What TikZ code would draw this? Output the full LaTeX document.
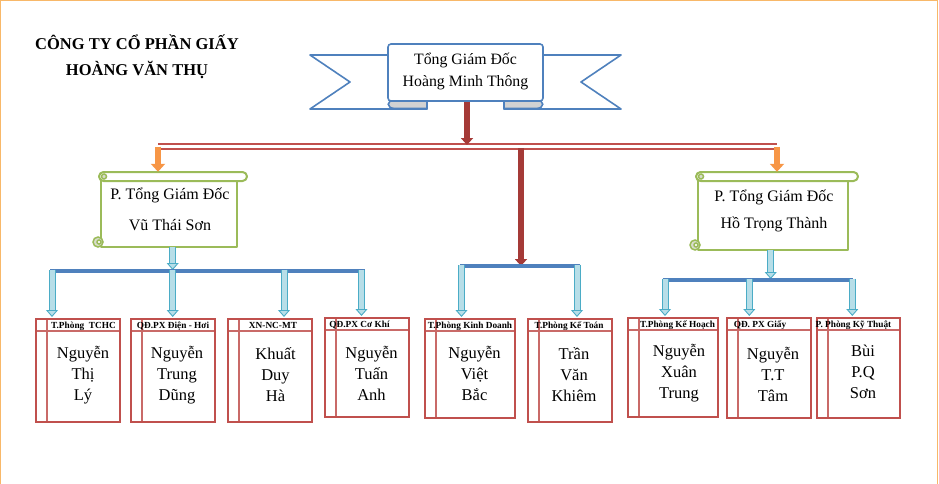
\documentclass[tikz,border=0pt]{standalone}
\usepackage{fontspec}
\setmainfont{Liberation Serif}
\usetikzlibrary{arrows.meta}

\definecolor{pageorange}{HTML}{F8B869}
\definecolor{boxred}{HTML}{C0504D}
\definecolor{innerpink}{HTML}{E6B9B8}
\definecolor{bannerblue}{HTML}{4F81BD}
\definecolor{foldgray}{HTML}{D2D2D2}
\definecolor{scrollgreen}{HTML}{9BBB59}
\definecolor{curlfill}{HTML}{D8DCCC}
\definecolor{arrowfill}{HTML}{B7DEE8}
\definecolor{arrowedge}{HTML}{4BACC6}
\definecolor{darkred}{HTML}{A53A37}
\definecolor{orangearrow}{HTML}{F79646}

\begin{document}
\begin{tikzpicture}[x=1pt,y=-1pt]
\tikzset{
    frame/.style={pageorange, line width=1.2pt},
    companytext/.style={font=\bfseries\fontsize{16.5}{26}\selectfont, align=center},
    ribbon/.style={draw=bannerblue, line width=1.6pt, fill=white, line join=round},
    fold/.style={draw=bannerblue, line width=1.6pt, fill=foldgray},
    ceobox/.style={ribbon, rounded corners=3pt, minimum width=155pt, minimum height=57pt,
        inner sep=0pt, align=center, font=\fontsize{15.8}{22}\selectfont},
    redline/.style={draw=boxred, line width=1.8pt, double=white, double distance=2.6pt},
    redarrow/.style={draw=darkred, line width=5.5pt, -{Triangle[length=7pt,width=12pt]}},
    orangedown/.style={draw=orangearrow, line width=5.5pt, -{Triangle[length=8pt,width=14pt]}},
    scroll/.style={draw=scrollgreen, line width=2pt, fill=white, line join=round},
    curl/.style={draw=scrollgreen, line width=1.5pt, fill=curlfill},
    vptext/.style={inner sep=0pt, align=center, font=\fontsize{16}{20}\selectfont},
    bluebar/.style={draw=bannerblue, line width=4.5pt},
    bluearrow/.style={draw=arrowfill, line width=5pt, shorten >=1pt,
        -{Triangle[length=7pt,width=12pt,fill=arrowfill,color=arrowedge,line width=0.9pt]},
        preaction={draw=arrowedge, line width=7pt, -, shorten >=6pt}},
    staffbox/.style={draw=boxred, line width=2pt, inner sep=0pt,
        path picture={\draw[innerline]
            ([yshift=-12pt]path picture bounding box.north west) -- ([yshift=-12pt]path picture bounding box.north east)
            ([xshift=11pt]path picture bounding box.north west) -- ([xshift=11pt]path picture bounding box.south west);}},
    innerline/.style={draw=boxred!75!innerpink, line width=1.4pt},
    headtext/.style={anchor=base, inner sep=0pt, font=\bfseries\fontsize{9.3}{10}\selectfont},
    staffname/.style={inner sep=0pt, align=center, font=\fontsize{16.5}{21}\selectfont}}

\useasboundingbox (0,0) rectangle (939,484);
\draw[frame] (0.6,484) -- (0.6,0.6) -- (937.4,0.6) -- (937.4,484);

\node[companytext] (company) at (137,57) {CÔNG TY CỔ PHẦN GIẤY\\HOÀNG VĂN THỤ};

\draw[ribbon] (400,55) -- (310,55) -- (350,82) -- (310,109) -- (427,109) -- (427,80) -- cycle;
\draw[ribbon] (531,55) -- (621,55) -- (581,82) -- (621,109) -- (504,109) -- (504,80) -- cycle;
\draw[fold] (427,100) -- (427,108.5) -- (395,108.5) .. controls (386,108.5) and (386,100) .. (395,100) -- cycle;
\draw[fold] (504,100) -- (504,108.5) -- (536,108.5) .. controls (545,108.5) and (545,100) .. (536,100) -- cycle;
\node[ceobox] (ceo) at (465.5,72.5) {Tổng Giám Đốc\\Hoàng Minh Thông\rule[-5pt]{0pt}{0pt}};

\def\xa{93}
\def\ya{172}
\def\xb{247}
\def\yb{247}

\draw[scroll] (\xa+8,\ya+5) -- (\xa+8,\yb) -- (\xb-10,\yb) -- (\xb-10,\ya+5);
\draw[scroll, rounded corners=4.5pt] (\xa+6,\ya) rectangle (\xb,\ya+9);
\draw[curl] (\xa+11,\ya+4.5) circle (2.5);
\draw[curl] (\xa+5,\yb-5) circle (5);
\draw[curl, fill=white] (\xa+6,\yb-5) circle (2);
\node[vptext, minimum width={(\xb-\xa)*1pt}, minimum height={(\yb-\ya)*1pt}] (vp1)
    at ({(\xa+\xb)/2},{(\ya+\yb)/2}) {P. Tổng Giám Đốc\\[11pt]Vũ Thái Sơn};

\def\xa{690}
\def\ya{172}
\def\xb{858}
\def\yb{250}

\draw[scroll] (\xa+8,\ya+5) -- (\xa+8,\yb) -- (\xb-10,\yb) -- (\xb-10,\ya+5);
\draw[scroll, rounded corners=4.5pt] (\xa+6,\ya) rectangle (\xb,\ya+9);
\draw[curl] (\xa+11,\ya+4.5) circle (2.5);
\draw[curl] (\xa+5,\yb-5) circle (5);
\draw[curl, fill=white] (\xa+6,\yb-5) circle (2);
\node[vptext, minimum width={(\xb-\xa)*1pt}, minimum height={(\yb-\ya)*1pt}] (vp2)
    at ({(\xa+\xb)/2},{(\ya+\yb)/2}) {P. Tổng Giám Đốc\\[7pt]Hồ Trọng Thành};

\path (158,146.5)coordinate(redL) (777,146.5)coordinate(redR) (467,145)coordinate(hub) (521,148)coordinate(redM);

\draw[redline] (redL) -- (redR);
\draw[redarrow] (ceo.south -| hub) -- (hub);
\draw[orangedown] (redL) -- (redL |- vp1.north);
\draw[orangedown] (redR) -- (redR |- vp2.north);

\node[staffbox, minimum width=84pt, minimum height=103pt] (b1) at (78,370.5) {};
\node[staffbox, minimum width=84pt, minimum height=103pt] (b2) at (173,370.5) {};
\node[staffbox, minimum width=84pt, minimum height=103pt] (b3) at (270,370.5) {};
\node[staffbox, minimum width=84pt, minimum height=99pt] (b4) at (367,367.5) {};
\node[staffbox, minimum width=90pt, minimum height=99pt] (b5) at (470,368.5) {};
\node[staffbox, minimum width=84pt, minimum height=103pt] (b6) at (570,370.5) {};
\node[staffbox, minimum width=90pt, minimum height=99pt] (b7) at (673,367.5) {};
\node[staffbox, minimum width=84pt, minimum height=100pt] (b8) at (769,368) {};
\node[staffbox, minimum width=83pt, minimum height=100pt] (b9) at (858.5,368) {};

\node[headtext] (h1) at (83.5,328.5) {T.Phòng~ TCHC};
\node[headtext] (h2) at (173,328.5) {QĐ.PX Điện - Hơi};
\node[headtext] (h3) at (273,328.5) {XN-NC-MT};
\node[headtext] (h4) at (359.5,327.5) {QĐ.PX Cơ Khí};
\node[headtext] (h5) at (470,328.5) {T.Phòng Kinh Doanh};
\node[headtext] (h6) at (569,328.5) {T.Phòng Kế Toán};
\node[headtext] (h7) at (677.5,327.5) {T.Phòng Kế Hoạch};
\node[headtext] (h8) at (760,327.5) {QĐ. PX Giấy};
\node[headtext] (h9) at (853.5,327.5) {P. Phòng Kỹ Thuật};

\node[staffname] (n1) at (83,375) {Nguyễn\\Thị\\Lý};
\node[staffname] (n2) at (177,375) {Nguyễn\\Trung\\Dũng};
\node[staffname] (n3) at (275.5,375) {Khuất\\Duy\\Hà};
\node[staffname] (n4) at (371.5,373) {Nguyễn\\Tuấn\\Anh};
\node[staffname] (n5) at (474.5,373) {Nguyễn\\Việt\\Bắc};
\node[staffname] (n6) at (574,375) {Trần\\Văn\\Khiêm};
\node[staffname] (n7) at (679,373) {Nguyễn\\Xuân\\Trung};
\node[staffname] (n8) at (773,374) {Nguyễn\\T.T\\Tâm};
\node[staffname] (n9) at (863,372) {Bùi\\P.Q\\Sơn};

\path (52,271)coordinate(t1) (172.7,271)coordinate(t2) (284,271)coordinate(t3) (361.5,271)coordinate(t4);
\path (461.5,266)coordinate(m1) (577,266)coordinate(m2) (521,266)coordinate(mv);
\path (665,280)coordinate(r1) (749.3,280)coordinate(r2) (852.3,280)coordinate(r3) (770.7,280)coordinate(rv);

\draw[redarrow, line width=6pt] (redM) -- (mv);
\draw[bluearrow] (t2 |- vp1.south) -- (t2);
\draw[bluearrow] (rv |- vp2.south) -- (rv);

\draw[bluebar] ([xshift=-2pt]t1) -- ([xshift=3pt]t4);
\draw[bluebar] ([xshift=-1.5pt]m1) -- ([xshift=3pt]m2);
\draw[bluebar] ([xshift=-2.5pt]r1) -- ([xshift=1pt]r3);

\draw[bluearrow] ([yshift=1.5pt]t1) -- (t1 |- b1.north);
\draw[bluearrow] ([yshift=1.5pt]t2) -- (t2 |- b2.north);
\draw[bluearrow] ([yshift=1.5pt]t3) -- (t3 |- b3.north);
\draw[bluearrow] ([yshift=1.5pt]t4) -- (t4 |- b4.north);
\draw[bluearrow] ([yshift=1.5pt]m1) -- (m1 |- b5.north);
\draw[bluearrow] ([yshift=1.5pt]m2) -- (m2 |- b6.north);
\draw[bluearrow] ([yshift=1.5pt]r1) -- (r1 |- b7.north);
\draw[bluearrow] ([yshift=1.5pt]r2) -- (r2 |- b8.north);
\draw[bluearrow] ([yshift=1.5pt]r3) -- (r3 |- b9.north);

\end{tikzpicture}
\end{document}
